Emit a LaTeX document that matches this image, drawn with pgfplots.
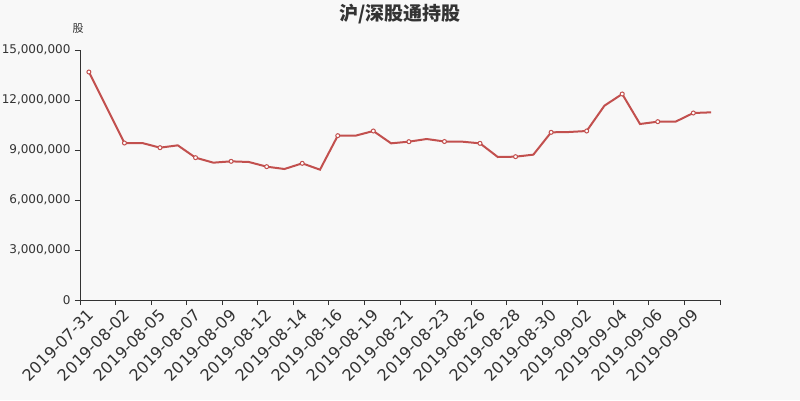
\documentclass[border=0pt]{standalone}
\usepackage{pgfplots}
\pgfplotsset{compat=1.18}
\usepackage{fontspec}
\setmainfont{DejaVu Sans}
\newfontfamily\cjk{Noto Sans CJK SC}
\definecolor{bg}{RGB}{248,248,248}
\definecolor{txt}{RGB}{51,51,51}
\definecolor{ln}{RGB}{194,80,78}
\begin{document}
\begin{tikzpicture}
\fill[bg] (0,0) rectangle (800pt,400pt);
\node[text=txt,font={\cjk\bfseries\fontsize{19}{22}\selectfont}] at (400pt,386pt) {沪/深股通持股};
\node[text=txt,font={\cjk\fontsize{11}{13}\selectfont}] at (78pt,371pt) {股};
\begin{axis}[
  at={(80pt,100pt)}, anchor=south west,
  scale only axis, width=640pt, height=250pt,
  xmin=-0.5, xmax=35.5, ymin=0, ymax=15000000,
  axis x line*=bottom, axis y line*=left,
  axis line style={txt, line width=0.9pt},
  every tick/.style={txt, line width=0.9pt},
  tick align=outside,
  major tick length=5pt,
  ytick={0,3000000,6000000,9000000,12000000,15000000},
  yticklabels={0,{3,000,000},{6,000,000},{9,000,000},{12,000,000},{15,000,000}},
  yticklabel style={font=\fontsize{12}{14}\selectfont, text=txt, xshift=-1pt},
  xtick={-0.5,1.5,3.5,5.5,7.5,9.5,11.5,13.5,15.5,17.5,19.5,21.5,23.5,25.5,27.5,29.5,31.5,33.5,35.5},
  xticklabels={},
  extra x ticks={0,2,...,34},
  extra x tick labels={2019-07-31,2019-08-02,2019-08-05,2019-08-07,2019-08-09,2019-08-12,2019-08-14,2019-08-16,2019-08-19,2019-08-21,2019-08-23,2019-08-26,2019-08-28,2019-08-30,2019-09-02,2019-09-04,2019-09-06,2019-09-09},
  extra x tick style={major tick length=0pt,
    xticklabel style={font=\fontsize{16}{18}\selectfont, text=txt, rotate=45, anchor=north east, inner sep=0pt, xshift=-7pt, yshift=-4pt}},
  scaled y ticks=false,
  clip=false,
]
\addplot[ln, line width=2pt, mark=*, mark repeat=2, mark size=2pt,
  mark options={fill=white, draw=ln, line width=1pt}] table {
x y
0 13680000
1 11550000
2 9420000
3 9420000
4 9140000
5 9280000
6 8540000
7 8240000
8 8320000
9 8280000
10 8000000
11 7860000
12 8200000
13 7820000
14 9860000
15 9860000
16 10140000
17 9400000
18 9500000
19 9660000
20 9510000
21 9500000
22 9400000
23 8580000
24 8600000
25 8720000
26 10060000
27 10080000
28 10140000
29 11660000
30 12360000
31 10560000
32 10700000
33 10700000
34 11220000
35 11260000
};
\end{axis}
\pgfresetboundingbox
\useasboundingbox (0,0) rectangle (800pt,400pt);
\end{tikzpicture}
\end{document}
